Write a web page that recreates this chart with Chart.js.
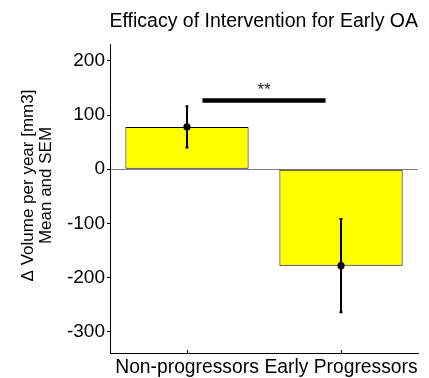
<!DOCTYPE html>
<html><head><meta charset="utf-8">
<script src="https://cdn.jsdelivr.net/npm/chart.js@4/dist/chart.umd.min.js"></script>
<style>html,body{margin:0;padding:0;background:#fff}#wrap{width:429px;height:378px}</style>
</head><body><div id="wrap"><canvas id="c" width="429" height="378"></canvas></div>
<script>
// ---- data ----
const categories = ['Non-progressors', 'Early Progressors'];
const meanValues = [78, -178];
const semValues = [38, 86];
const yTickValues = [-300, -200, -100, 0, 100, 200];
const yRange = [-339, 231];
const sigPair = [0, 1];
const sigLevel = 127;
const sigLabel = '**';
const chartTitle = 'Efficacy of Intervention for Early OA';
const yAxisLines = ['\u0394 Volume per year [mm3]', 'Mean and SEM'];

const FONT = '"Liberation Sans", Arial, Helvetica, sans-serif';

const overlay = {
  id: 'overlay',
  afterDatasetsDraw(chart) {
    const {ctx, chartArea, scales: {x, y}} = chart;
    ctx.save();
    // inward x tick marks
    ctx.strokeStyle = '#000'; ctx.lineWidth = 1;
    categories.forEach((c, i) => {
      const px = Math.round(x.getPixelForValue(i)) + 0.5;
      ctx.beginPath(); ctx.moveTo(px, chartArea.bottom); ctx.lineTo(px, chartArea.bottom - 3); ctx.stroke();
    });
    // error bars + mean markers
    ctx.lineWidth = 2; ctx.fillStyle = '#000';
    meanValues.forEach((m, i) => {
      const px = x.getPixelForValue(i);
      const top = y.getPixelForValue(m + semValues[i]);
      const bot = y.getPixelForValue(m - semValues[i]);
      ctx.beginPath(); ctx.moveTo(px, top); ctx.lineTo(px, bot); ctx.stroke();
      ctx.beginPath();
      ctx.moveTo(px - 1.5, top); ctx.lineTo(px + 1.5, top);
      ctx.moveTo(px - 1.5, bot); ctx.lineTo(px + 1.5, bot);
      ctx.stroke();
      ctx.beginPath(); ctx.arc(px, y.getPixelForValue(m), 3.6, 0, Math.PI * 2); ctx.fill();
    });
    // significance bar
    const inset = 0.1;
    const x1 = x.getPixelForValue(sigPair[0] + inset);
    const x2 = x.getPixelForValue(sigPair[1] - inset);
    const sy = y.getPixelForValue(sigLevel);
    ctx.lineWidth = 4.5; ctx.lineCap = 'butt';
    ctx.beginPath(); ctx.moveTo(x1, sy); ctx.lineTo(x2, sy); ctx.stroke();
    ctx.font = '17px ' + FONT; ctx.textAlign = 'center'; ctx.textBaseline = 'alphabetic';
    ctx.fillStyle = '#222';
    ctx.fillText(sigLabel, (x1 + x2) / 2, sy - 5);
    // y-axis label (two lines, rotated)
    ctx.fillStyle = '#000';
    ctx.font = '17px ' + FONT;
    const cy = (chartArea.top + chartArea.bottom) / 2 - 13;
    [32.5, 50.5].forEach((bx, k) => {
      ctx.save();
      ctx.translate(bx, cy);
      ctx.rotate(-Math.PI / 2);
      ctx.textAlign = 'center'; ctx.textBaseline = 'alphabetic';
      ctx.fillText(yAxisLines[k], 0, 0);
      ctx.restore();
    });
    ctx.restore();
  }
};

new Chart(document.getElementById('c'), {
  type: 'bar',
  data: {
    labels: categories,
    datasets: [{
      data: meanValues,
      backgroundColor: '#ffff00',
      borderColor: '#000',
      borderWidth: 1,
      borderSkipped: false,
      barPercentage: 0.8,
      categoryPercentage: 1.0
    }]
  },
  options: {
    responsive: false,
    devicePixelRatio: 1,
    animation: false,
    layout: { padding: { left: 0, right: 11, top: 0, bottom: 0 } },
    plugins: {
      legend: { display: false },
      tooltip: { enabled: false },
      title: {
        display: true,
        text: chartTitle,
        align: 'end',
        color: '#000',
        font: { family: FONT, size: 19.5, weight: 'normal' },
        padding: { top: 10.2, bottom: 10.4 }
      }
    },
    scales: {
      x: {
        type: 'category',
        offset: true,
        grid: { display: false, drawTicks: false },
        border: { display: true, color: '#000', width: 1 },
        ticks: { color: '#000', font: { family: FONT, size: 19.3 }, padding: 3, maxRotation: 0, autoSkip: false },
        afterFit(scale) { scale.height = 25; }
      },
      y: {
        min: yRange[0],
        max: yRange[1],
        afterBuildTicks(scale) { scale.ticks = yTickValues.map(v => ({ value: v })); },
        grid: {
          display: true,
          drawOnChartArea: true,
          drawTicks: true,
          tickLength: 3,
          tickColor: '#000',
          lineWidth: 1,
          color: (c) => (c.tick && c.tick.value === 0 ? '#7f7f7f' : 'rgba(0,0,0,0)')
        },
        border: { display: true, color: '#000', width: 1 },
        ticks: { color: '#000', font: { family: FONT, size: 19 }, padding: 2 },
        afterFit(scale) { scale.width = 110; }
      }
    }
  },
  plugins: [overlay]
});
</script>
</body></html>
